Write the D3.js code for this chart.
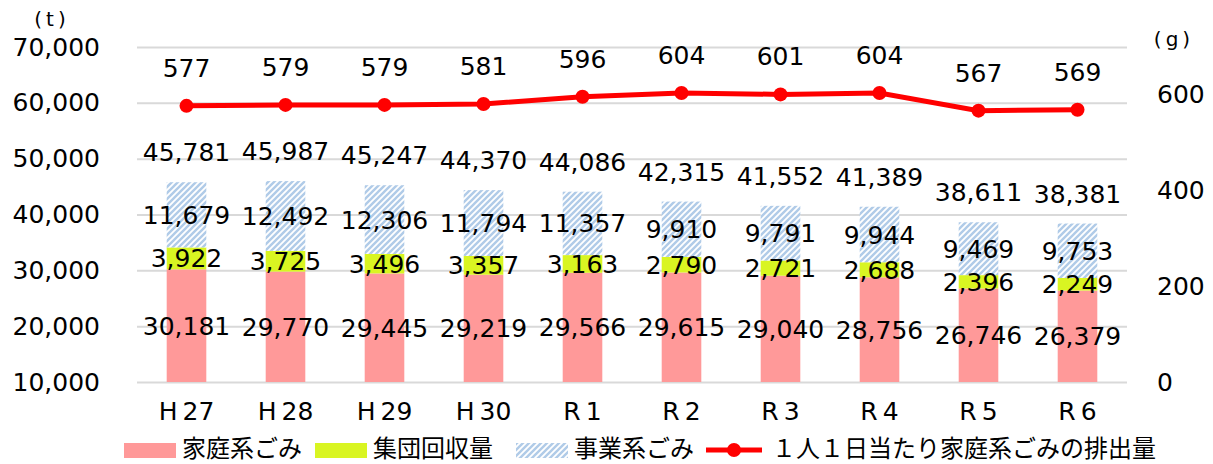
<!DOCTYPE html>
<html>
<head>
<meta charset="utf-8">
<script src="https://cdn.jsdelivr.net/npm/d3@7"></script>
<style>
  body { margin: 0; background: #fff; }
  text { font-family: 'DejaVu Sans', sans-serif; fill: #000; }
  .jp { font-family: 'Noto Sans CJK JP', sans-serif; }
</style>
</head>
<body>
<div class="chart"></div>
<script>
// data
let years = ['H\u200927', 'H\u200928', 'H\u200929', 'H\u200930', 'R\u20091', 'R\u20092', 'R\u20093', 'R\u20094', 'R\u20095', 'R\u20096']
let household = [30181, 29770, 29445, 29219, 29566, 29615, 29040, 28756, 26746, 26379]
let group = [3922, 3725, 3496, 3357, 3163, 2790, 2721, 2688, 2396, 2249]
let business = [11679, 12492, 12306, 11794, 11357, 9910, 9791, 9944, 9469, 9753]
let totals = [45781, 45987, 45247, 44370, 44086, 42315, 41552, 41389, 38611, 38381]
let perCapita = [577, 579, 579, 581, 596, 604, 601, 604, 567, 569]
let leftTicks = [10000, 20000, 30000, 40000, 50000, 60000, 70000]
let rightTicks = [0, 200, 400, 600]

const width = 1213
const height = 464
const margin = { left: 137, right: 86, top: 47, bottom: 82 }
let fmt = d3.format(',')

const svg = d3.select('.chart').append('svg')
  .attr('width', width)
  .attr('height', height)

// diagonal hatch for 事業系ごみ
let pat = svg.append('defs').append('pattern')
  .attr('id', 'hatch')
  .attr('patternUnits', 'userSpaceOnUse')
  .attr('width', 6)
  .attr('height', 6)
pat.append('rect').attr('width', 6).attr('height', 6).attr('fill', '#fff')
pat.append('path')
  .attr('d', 'M0,6 L6,0 M-1.5,1.5 L1.5,-1.5 M4.5,7.5 L7.5,4.5')
  .attr('stroke', '#b0cbe8').attr('stroke-width', 2.4)

let x = d3.scaleBand()
  .domain(years)
  .range([margin.left, width - margin.right])
  .paddingInner(0.6)
  .paddingOuter(0.3)

let y = d3.scaleLinear()
  .domain([10000, 70000])
  .range([height - margin.bottom, margin.top])
  .clamp(true)

let y2 = d3.scaleLinear()
  .domain([0, 700])
  .range([height - margin.bottom, margin.top])

// grid
svg.append('g')
  .attr('transform', `translate(${margin.left},0)`)
  .call(d3.axisLeft(y).tickValues(leftTicks).tickSize(-(width - margin.left - margin.right)).tickFormat(''))
  .call((g) => g.select('.domain').remove())
  .call((g) => g.selectAll('line').attr('stroke', '#d9d9d9').attr('stroke-width', 2))

// left axis labels
svg.append('g')
  .attr('transform', `translate(${margin.left},0)`)
  .call(d3.axisLeft(y).tickValues(leftTicks).tickSize(0).tickPadding(37).tickFormat(fmt))
  .call((g) => g.select('.domain').remove())
  .call((g) => g.selectAll('text').style('font-size', '25px').style('font-family', 'DejaVu Sans'))

// right axis labels
svg.append('g')
  .attr('transform', `translate(${width - margin.right},0)`)
  .call(d3.axisRight(y2).tickValues(rightTicks).tickSize(0).tickPadding(30))
  .call((g) => g.select('.domain').remove())
  .call((g) => g.selectAll('text').style('font-size', '25px').style('font-family', 'DejaVu Sans'))

// x axis labels
svg.append('g')
  .attr('transform', `translate(0,${height - margin.bottom})`)
  .call(d3.axisBottom(x).tickSize(0).tickPadding(20))
  .call((g) => g.select('.domain').remove())
  .call((g) => g.selectAll('text').style('font-size', '25px').style('font-family', 'DejaVu Sans'))

// unit labels
svg.append('text').attr('x', 50).attr('y', 26)
  .attr('text-anchor', 'middle').style('font-size', '20px').text('(\u2009t\u2009)')
svg.append('text').attr('x', 1172).attr('y', 46)
  .attr('text-anchor', 'middle').style('font-size', '20px').text('(\u2009g\u2009)')

// stacked bars
let rows = years.map((yr, i) => ({ year: yr, household: household[i], group: group[i], business: business[i] }))
let keys = ['household', 'group', 'business']
let fills = { household: '#ff9999', group: '#d9f522', business: 'url(#hatch)' }
let stacked = d3.stack().keys(keys)(rows)

stacked.forEach((layer) => {
  svg.append('g')
    .selectAll('rect')
    .data(layer)
    .enter()
    .append('rect')
    .attr('x', (d) => x(d.data.year))
    .attr('width', x.bandwidth())
    .attr('y', (d) => y(d[1]))
    .attr('height', (d) => y(d[0]) - y(d[1]))
    .attr('fill', fills[layer.key])
})

stacked.forEach((layer) => {
  svg.append('g')
    .selectAll('text')
    .data(layer)
    .enter()
    .append('text')
    .attr('x', (d) => x(d.data.year) + x.bandwidth() / 2)
    .attr('y', (d) => (y(Math.max(d[0], 10000)) + y(d[1])) / 2)
    .attr('dy', '0.36em')
    .attr('text-anchor', 'middle')
    .style('font-size', '25px')
    .text((d) => fmt(d.data[layer.key]))
})

// totals
svg.append('g')
  .selectAll('text')
  .data(totals)
  .enter()
  .append('text')
  .attr('x', (d, i) => x(years[i]) + x.bandwidth() / 2)
  .attr('y', (d) => y(d) - 30)
  .attr('dy', '0.36em')
  .attr('text-anchor', 'middle')
  .style('font-size', '25px')
  .text((d) => fmt(d))

// per-capita line
let line = d3.line()
  .x((d, i) => x(years[i]) + x.bandwidth() / 2)
  .y((d) => y2(d))

svg.append('path')
  .datum(perCapita)
  .attr('d', line)
  .attr('fill', 'none')
  .attr('stroke', '#ff0000')
  .attr('stroke-width', 5)

svg.append('g')
  .selectAll('circle')
  .data(perCapita)
  .enter()
  .append('circle')
  .attr('cx', (d, i) => x(years[i]) + x.bandwidth() / 2)
  .attr('cy', (d) => y2(d))
  .attr('r', 7)
  .attr('fill', '#ff0000')

svg.append('g')
  .selectAll('text')
  .data(perCapita)
  .enter()
  .append('text')
  .attr('x', (d, i) => x(years[i]) + x.bandwidth() / 2)
  .attr('y', (d) => y2(d) - 38)
  .attr('dy', '0.36em')
  .attr('text-anchor', 'middle')
  .style('font-size', '25px')
  .text((d) => d)

// legend
let legendItems = [
  { label: '家庭系ごみ', type: 'rect', fill: '#ff9999', x: 124 },
  { label: '集団回収量', type: 'rect', fill: '#d9f522', x: 315 },
  { label: '事業系ごみ', type: 'rect', fill: 'url(#hatch)', x: 516 },
  { label: '１人１日当たり家庭系ごみの排出量', type: 'line', fill: '#ff0000', x: 706 },
]
let lg = svg.append('g')
legendItems.forEach((it) => {
  if (it.type === 'rect') {
    lg.append('rect').attr('x', it.x).attr('y', 443).attr('width', 52).attr('height', 15).attr('fill', it.fill)
    lg.append('text').attr('class', 'jp').attr('x', it.x + 58).attr('y', 457)
      .style('font-size', '24px').text(it.label)
  } else {
    lg.append('line').attr('x1', it.x).attr('x2', it.x + 56).attr('y1', 450).attr('y2', 450)
      .attr('stroke', it.fill).attr('stroke-width', 5)
    lg.append('circle').attr('cx', it.x + 28).attr('cy', 450).attr('r', 7).attr('fill', it.fill)
    lg.append('text').attr('class', 'jp').attr('x', it.x + 66).attr('y', 457)
      .style('font-size', '24px').text(it.label)
  }
})
</script>
</body>
</html>
